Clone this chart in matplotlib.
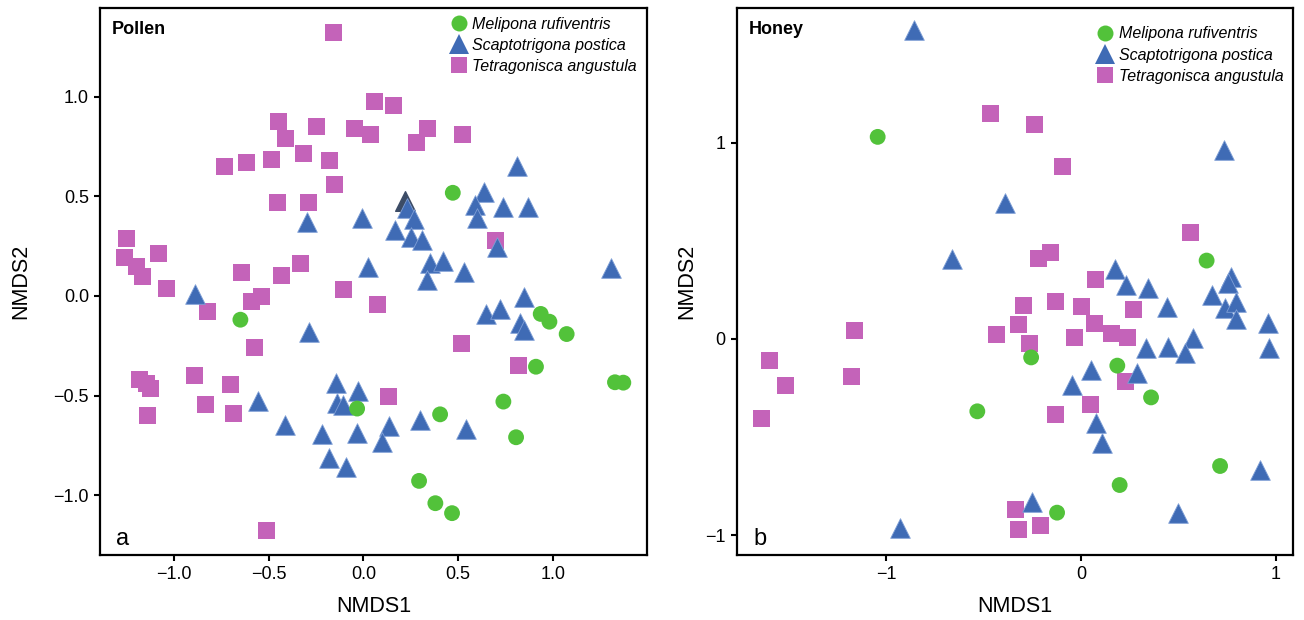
import matplotlib
matplotlib.use('Agg')
from matplotlib import pyplot as plt
from matplotlib.lines import Line2D

plt.rcParams['font.family'] = ['Liberation Sans', 'DejaVu Sans']

species = ['Melipona rufiventris', 'Scaptotrigona postica', 'Tetragonisca angustula']
colors = ['#52c23a', '#3f6bb5', '#c463b9']
markers = ['o', '^', 's']
sizes = [130, 200, 150]

# ---- Pollen (a) ----
pollen_mr_x = [0.472, -0.649, -0.033, 0.936, 0.982, 1.073, 0.911, 1.328, 1.372, 0.739,
               0.405, 0.806, 0.294, 0.38, 0.468]
pollen_mr_y = [0.518, -0.119, -0.565, -0.09, -0.129, -0.191, -0.355, -0.433, -0.435, -0.53,
               -0.594, -0.709, -0.928, -1.04, -1.09]

pollen_sp_x = [-0.299, -0.008, 0.023, 0.809, 0.229, 0.269, 0.639, 0.589, 0.736, 0.871,
               0.598, 0.167, 0.25, 0.308, 0.704, 0.352, 0.419, 0.533, 1.305, 0.338,
               0.848, 0.647, 0.721, 0.827, 0.846, 0.299, 0.136, 0.097, 0.540, -0.891,
               -0.288, -0.144, -0.028, -0.14, -0.106, -0.554, -0.412, -0.216, -0.035, -0.184,
               -0.091]
pollen_sp_y = [0.373, 0.39, 0.147, 0.654, 0.44, 0.386, 0.523, 0.457, 0.445, 0.445,
               0.39, 0.331, 0.294, 0.281, 0.244, 0.164, 0.176, 0.122, 0.139, 0.08,
               -0.007, -0.09, -0.067, -0.137, -0.171, -0.622, -0.651, -0.734, -0.667, 0.01,
               -0.179, -0.435, -0.477, -0.538, -0.547, -0.527, -0.647, -0.692, -0.689, -0.811,
               -0.86]
# one darker, overlapped triangle
pollen_sp_dark_x = [0.222]
pollen_sp_dark_y = [0.478]

pollen_ta_x = [-0.158, 0.058, 0.158, -0.449, -0.412, -0.248, -0.047, 0.037, 0.338, 0.280,
               0.522, -0.733, -0.617, -0.484, -0.317, -0.179, -0.153, -0.454, -0.290, 0.699,
               -1.251, -1.261, -1.198, -1.165, -1.082, -1.04, -0.642, -0.433, -0.332, -0.106,
               0.074, -0.54, -0.593, -0.823, -0.574, 0.518, 0.818, 0.132, -1.182, -1.143,
               -1.124, -0.891, -0.702, -0.833, -0.686, -1.14, -0.512]
pollen_ta_y = [1.323, 0.975, 0.957, 0.875, 0.791, 0.851, 0.841, 0.811, 0.841, 0.771,
               0.811, 0.651, 0.671, 0.686, 0.716, 0.681, 0.560, 0.470, 0.470, 0.281,
               0.289, 0.194, 0.15, 0.097, 0.211, 0.039, 0.118, 0.103, 0.161, 0.034,
               -0.042, -0.003, -0.028, -0.077, -0.259, -0.237, -0.348, -0.505, -0.418, -0.438,
               -0.463, -0.398, -0.443, -0.543, -0.589, -0.599, -1.176]

# ---- Honey (b) ----
honey_mr_x = [-1.043, 0.644, -0.256, 0.186, 0.359, -0.532, 0.713, 0.198, -0.123]
honey_mr_y = [1.031, 0.40, -0.094, -0.136, -0.298, -0.369, -0.648, -0.745, -0.886]

honey_sp_x = [-0.856, -0.388, -0.662, 0.733, 0.176, 0.231, 0.342, 0.441, 0.769, 0.755,
              0.670, 0.738, 0.793, 0.793, 0.957, 0.964, 0.576, 0.333, 0.446, 0.533,
              0.286, 0.05, -0.044, 0.075, 0.108, 0.916, 0.496, -0.25, -0.927]
honey_sp_y = [1.577, 0.692, 0.407, 0.964, 0.356, 0.276, 0.259, 0.162, 0.318, 0.284,
              0.224, 0.157, 0.19, 0.10, 0.08, -0.047, 0.004, -0.044, -0.039, -0.073,
              -0.175, -0.158, -0.235, -0.427, -0.529, -0.668, -0.886, -0.833, -0.966]

honey_ta_x = [-0.465, -0.239, -0.096, 0.561, -0.217, -0.157, 0.073, -0.296, -0.132, 0.002,
              0.268, -0.323, 0.068, 0.156, 0.238, -0.265, -0.034, 0.227, 0.048, -0.132,
              -0.338, -0.323, -0.209, -1.163, -1.598, -1.516, -1.639, -1.178, -0.434]
honey_ta_y = [1.151, 1.095, 0.881, 0.544, 0.412, 0.442, 0.301, 0.173, 0.192, 0.167,
              0.148, 0.075, 0.08, 0.029, 0.009, -0.022, 0.009, -0.216, -0.333, -0.384,
              -0.869, -0.974, -0.951, 0.044, -0.109, -0.236, -0.405, -0.19, 0.024]

pollen_ticks = [-1.0, -0.5, 0.0, 0.5, 1.0]
honey_ticks = [-1, 0, 1]


def draw(ax, xs, ys, title, letter, xlim, ylim, ticks, leg_anchor, ylabelpad):
    # squares first, then triangles, circles on top
    for i in [2, 1, 0]:
        ax.scatter(xs[i], ys[i], s=sizes[i], marker=markers[i], c=colors[i],
                   edgecolors='none' if i != 1 else '#7f9fd6', linewidths=0.6, zorder=2 + (2 - i))
    ax.set_xlim(xlim)
    ax.set_ylim(ylim)
    ax.set_xticks(ticks)
    ax.set_yticks(ticks)
    ax.set_xlabel('NMDS1', fontsize=15.5, labelpad=9)
    ax.set_ylabel('NMDS2', fontsize=15.5, labelpad=ylabelpad)
    ax.tick_params(direction='out', length=4, width=1.5, labelsize=13, pad=4)
    for sp in ax.spines.values():
        sp.set_linewidth(1.6)
    ax.text(0.022, 0.975, title, transform=ax.transAxes, fontsize=13, fontweight='bold',
            ha='left', va='top')
    ax.text(0.03, 0.01, letter, transform=ax.transAxes, fontsize=17, ha='left', va='bottom')
    handles = [Line2D([], [], linestyle='none', marker=markers[i], color=colors[i],
                      markersize=[11.5, 14, 12][i], markeredgewidth=0) for i in range(3)]
    ax.legend(handles, species, loc='upper right', bbox_to_anchor=leg_anchor, frameon=False,
              handlelength=1.0, handletextpad=0.35, labelspacing=0.38, borderaxespad=0.2,
              borderpad=0.2, prop={'style': 'italic', 'size': 11.5})


fig = plt.figure(figsize=(13.04, 6.2), dpi=100)
ax1 = fig.add_axes([100 / 1304, 1 - 555 / 620, 547 / 1304, 547.5 / 620])
ax2 = fig.add_axes([736.7 / 1304, 1 - 555 / 620, 556.3 / 1304, 547.5 / 620])

draw(ax1, [pollen_mr_x, pollen_sp_x, pollen_ta_x], [pollen_mr_y, pollen_sp_y, pollen_ta_y],
     'Pollen', 'a', (-1.39, 1.497), (-1.30, 1.448), pollen_ticks, (0.993, 0.9945), 16)
ax1.scatter(pollen_sp_dark_x, pollen_sp_dark_y, s=200, marker='^', c='#3c4c66', zorder=2.5)
ax1.set_yticklabels([f'{t:.1f}'.replace('-', '\u2212') for t in pollen_ticks])
ax1.set_xticklabels([f'{t:.1f}'.replace('-', '\u2212') for t in pollen_ticks])

draw(ax2, [honey_mr_x, honey_sp_x, honey_ta_x], [honey_mr_y, honey_sp_y, honey_ta_y],
     'Honey', 'b', (-1.766, 1.087), (-1.102, 1.691), honey_ticks, (0.9946, 0.977), 6)

fig.savefig('out.png', dpi=100)
